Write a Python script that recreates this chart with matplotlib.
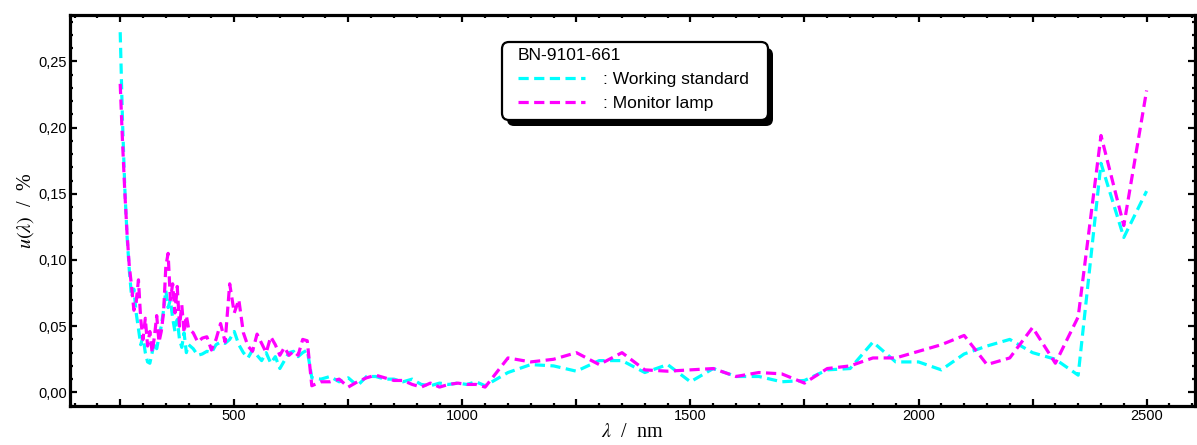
import numpy as np
import matplotlib
matplotlib.use("Agg")
import matplotlib.pyplot as plt
from matplotlib.ticker import MultipleLocator, FuncFormatter
from matplotlib.patches import FancyBboxPatch

plt.rcParams['font.family'] = ['Liberation Sans', 'DejaVu Sans']
plt.rcParams['mathtext.fontset'] = 'stix'

# wavelength grid (nm)
wl_uv = list(range(250, 401, 5))
wl_vis = list(range(410, 661, 10))
wl_nir = list(range(670, 1051, 20))
wl_ir = list(range(1100, 2501, 50))
wavelength = np.array(wl_uv + wl_vis + wl_nir + wl_ir, dtype=float)

# relative standard uncertainty u(lambda) in %
working_standard = [
    0.272, 0.205, 0.155, 0.118, 0.092, 0.072, 0.078, 0.060, 0.048, 0.036,
    0.042, 0.030, 0.023, 0.022, 0.030, 0.038, 0.033, 0.042, 0.050, 0.062,
    0.077, 0.064, 0.070, 0.056, 0.046, 0.055, 0.040, 0.034, 0.045, 0.030,
    0.036,
    0.033, 0.028, 0.029, 0.031, 0.030, 0.036, 0.038, 0.037, 0.040, 0.046,
    0.036, 0.030, 0.026, 0.032, 0.028, 0.024, 0.030, 0.022, 0.027, 0.018,
    0.024, 0.030, 0.031, 0.027, 0.030, 0.032,
    0.011, 0.010, 0.012, 0.008, 0.011, 0.005, 0.012, 0.012, 0.010, 0.010,
    0.008, 0.010, 0.006, 0.005, 0.007, 0.006, 0.007, 0.006, 0.008, 0.005,
    0.015, 0.021, 0.020, 0.016, 0.024, 0.024, 0.015, 0.021, 0.008, 0.018,
    0.012, 0.012, 0.008, 0.009, 0.017, 0.018, 0.038, 0.023, 0.023, 0.017,
    0.029, 0.035, 0.040, 0.030, 0.025, 0.013, 0.173, 0.117, 0.152,
]
monitor_lamp = [
    0.233, 0.190, 0.152, 0.120, 0.095, 0.080, 0.062, 0.068, 0.085, 0.055,
    0.040, 0.056, 0.035, 0.046, 0.030, 0.042, 0.058, 0.038, 0.046, 0.060,
    0.095, 0.105, 0.070, 0.082, 0.060, 0.080, 0.050, 0.066, 0.045, 0.058,
    0.048,
    0.045, 0.038, 0.041, 0.042, 0.032, 0.040, 0.052, 0.038, 0.082, 0.060,
    0.070, 0.045, 0.035, 0.031, 0.044, 0.037, 0.030, 0.042, 0.036, 0.028,
    0.034, 0.028, 0.031, 0.028, 0.040, 0.039,
    0.005, 0.008, 0.008, 0.010, 0.004, 0.008, 0.011, 0.013, 0.011, 0.009,
    0.009, 0.006, 0.004, 0.007, 0.004, 0.006, 0.007, 0.006, 0.006, 0.004,
    0.026, 0.023, 0.025, 0.030, 0.021, 0.030, 0.017, 0.016, 0.017, 0.018,
    0.012, 0.015, 0.014, 0.007, 0.018, 0.020, 0.026, 0.026, 0.031, 0.036,
    0.043, 0.021, 0.026, 0.049, 0.022, 0.057, 0.194, 0.126, 0.228,
]

series_labels = [": Working standard", ": Monitor lamp"]
series_colors = ["#00FFFF", "#FF00FF"]
legend_title = "BN-9101-661"

W, H = 1197, 445
fig = plt.figure(figsize=(W / 100, H / 100), dpi=100)
ax = fig.add_axes([0.0585, 0.0876, 0.9398, 0.8787])

lines = []
for vals, lab, col in zip([working_standard, monitor_lamp], series_labels, series_colors):
    ln, = ax.plot(wavelength, vals, color=col, lw=2.3, dashes=(3.2, 1.7), label=lab)
    lines.append(ln)

ax.set_xlim(140, 2606)
ax.set_ylim(-0.0103, 0.285)

ax.xaxis.set_major_locator(MultipleLocator(250))
ax.xaxis.set_minor_locator(MultipleLocator(50))
ax.xaxis.set_major_formatter(FuncFormatter(lambda v, p: f"{int(round(v))}" if round(v) % 500 == 0 else ""))
ax.yaxis.set_major_locator(MultipleLocator(0.05))
ax.yaxis.set_minor_locator(MultipleLocator(0.01))
ax.yaxis.set_major_formatter(FuncFormatter(lambda v, p: f"{v:.2f}".replace(".", ",")))

ax.tick_params(which='both', direction='in', top=True, right=True, width=1.6, labelsize=10.5, color='black')
ax.tick_params(which='major', length=5, pad=2)
ax.tick_params(which='minor', length=2.5)
for s in ax.spines.values():
    s.set_linewidth(2.3)

ax.set_xlabel(r"$\lambda$  /  nm", fontsize=14.5, family='Liberation Serif', labelpad=0)
ax.set_ylabel(r"$u(\lambda)$  /  %", fontsize=14.5, family='Liberation Serif', labelpad=2)

# legend contents without frame; the boxed frame and its shadow are drawn separately
leg = ax.legend(handles=lines, title=legend_title, loc='upper left',
                bbox_to_anchor=(0.3982, 0.9156), borderaxespad=0, borderpad=0,
                fontsize=12.5, title_fontsize=12.5,
                alignment='left', handlelength=3.85, handletextpad=1.05,
                labelspacing=0.51, frameon=False)
leg.set_zorder(6)

# legend frame (pixel box) with a solid drop shadow
box_x0, box_y0, box_w, box_h = 502, H - 120, 266, 78
shadow = FancyBboxPatch((box_x0 + 5, box_y0 - 6), box_w, box_h,
                        boxstyle='round,pad=0,rounding_size=7',
                        facecolor='black', edgecolor='black', lw=0,
                        transform=None, zorder=5)
frame = FancyBboxPatch((box_x0, box_y0), box_w, box_h,
                       boxstyle='round,pad=0,rounding_size=7',
                       facecolor='white', edgecolor='black', lw=1.6,
                       transform=None, zorder=5.5)
ax.add_artist(shadow)
ax.add_artist(frame)

fig.savefig("out.png", dpi=100)
